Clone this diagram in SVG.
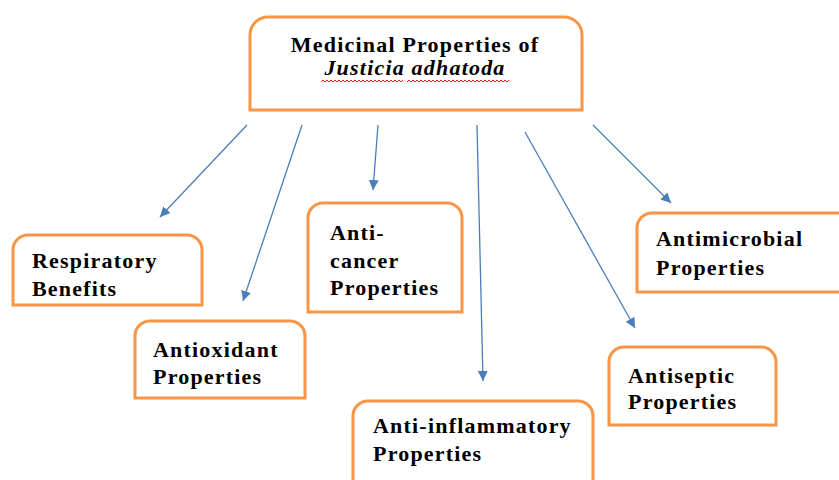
<svg xmlns="http://www.w3.org/2000/svg" width="839" height="480" viewBox="0 0 839 480">
<style>
.box{fill:#fff;stroke:#F79646;stroke-width:3}
.t{font-family:"Liberation Serif","Times New Roman",serif;font-weight:bold;font-size:22px;letter-spacing:1.2px;fill:#000}
.it{font-style:italic}
.c{stroke:#4A7EBB;stroke-width:1.3;fill:none;marker-end:url(#ah)}
.sq{stroke:#E02020;stroke-width:1;fill:none}
</style>
<defs>
<marker id="ah" viewBox="0 0 10 10" refX="10" refY="5" markerWidth="10" markerHeight="10" markerUnits="userSpaceOnUse" orient="auto">
<path d="M0,0 L10,5 L0,10 Z" fill="#4A7EBB"/>
</marker>
</defs>
<rect width="839" height="480" fill="#fff"/>
<g id="connectors">
<line class="c" x1="247" y1="125" x2="160" y2="217"/>
<line class="c" x1="302" y1="125" x2="243" y2="301"/>
<line class="c" x1="378" y1="125" x2="373" y2="190"/>
<line class="c" x1="477" y1="125" x2="483" y2="381"/>
<line class="c" x1="525" y1="132" x2="635" y2="328"/>
<line class="c" x1="593" y1="125" x2="671" y2="203"/>
</g>
<g id="main">
<path class="box" d="M250,110 V35 A18,18 0 0 1 268,17 H564 A18,18 0 0 1 582,35 V110 Z"/>
<text class="t" x="415" y="52" text-anchor="middle">Medicinal Properties of</text>
<text class="t it" x="415" y="75" text-anchor="middle">Justicia adhatoda</text>
<path class="sq" d="M321,82 l2,-2 l2,2 l2,-2 l2,2 l2,-2 l2,2 l2,-2 l2,2 l2,-2 l2,2 l2,-2 l2,2 l2,-2 l2,2 l2,-2 l2,2 l2,-2 l2,2 l2,-2 l2,2 l2,-2 l2,2 l2,-2 l2,2 l2,-2 l2,2 l2,-2 l2,2 l2,-2 l2,2 l2,-2 l2,2 l2,-2 l2,2 l2,-2 l2,2 l2,-2 l2,2 l2,-2 l2,2 l2,-2"/>
<path class="sq" d="M407,82 l2,-2 l2,2 l2,-2 l2,2 l2,-2 l2,2 l2,-2 l2,2 l2,-2 l2,2 l2,-2 l2,2 l2,-2 l2,2 l2,-2 l2,2 l2,-2 l2,2 l2,-2 l2,2 l2,-2 l2,2 l2,-2 l2,2 l2,-2 l2,2 l2,-2 l2,2 l2,-2 l2,2 l2,-2 l2,2 l2,-2 l2,2 l2,-2 l2,2 l2,-2 l2,2 l2,-2 l2,2 l2,-2 l2,2 l2,-2 l2,2 l2,-2 l2,2 l2,-2 l2,2 l2,-2 l2,2 l2,-2"/>
</g>
<g id="respiratory">
<path class="box" d="M13,305 V250 A15,15 0 0 1 28,235 H187 A15,15 0 0 1 202,250 V305 Z"/>
<text class="t" x="32" y="268">Respiratory</text>
<text class="t" x="32" y="296">Benefits</text>
</g>
<g id="antioxidant">
<path class="box" d="M135,398 V336 A15,15 0 0 1 150,321 H290 A15,15 0 0 1 305,336 V398 Z"/>
<text class="t" x="153" y="357">Antioxidant</text>
<text class="t" x="153" y="384">Properties</text>
</g>
<g id="anticancer">
<path class="box" d="M308,312 V218 A15,15 0 0 1 323,203 H447 A15,15 0 0 1 462,218 V312 Z"/>
<text class="t" x="330" y="240">Anti-</text>
<text class="t" x="330" y="268">cancer</text>
<text class="t" x="330" y="295">Properties</text>
</g>
<g id="antimicrobial">
<path class="box" d="M637,292 V228 A15,15 0 0 1 652,213 H860 V292 Z"/>
<text class="t" x="656" y="246">Antimicrobial</text>
<text class="t" x="656" y="275">Properties</text>
</g>
<g id="antiseptic">
<path class="box" d="M609,425 V362 A15,15 0 0 1 624,347 H761 A15,15 0 0 1 776,362 V425 Z"/>
<text class="t" x="628" y="383">Antiseptic</text>
<text class="t" x="628" y="409">Properties</text>
</g>
<g id="antiinflammatory">
<path class="box" d="M353,495 V416 A15,15 0 0 1 368,401 H578 A15,15 0 0 1 593,416 V495"/>
<text class="t" x="373" y="433">Anti-inflammatory</text>
<text class="t" x="373" y="461">Properties</text>
</g>
</svg>
